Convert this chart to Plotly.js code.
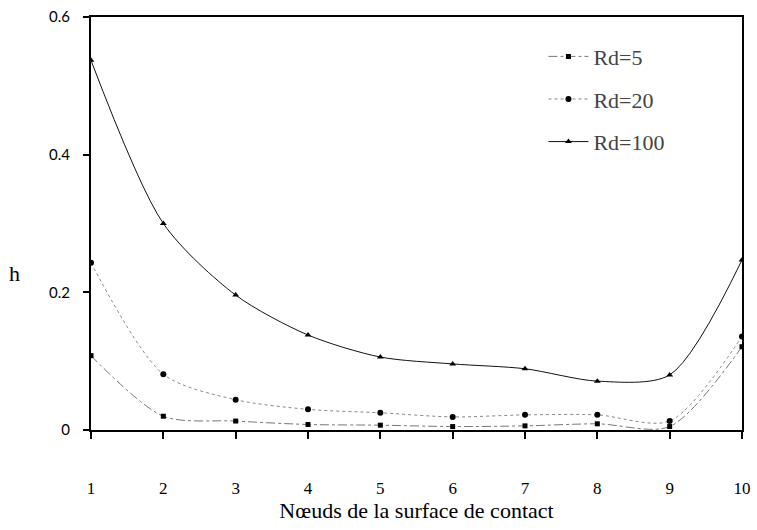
<!DOCTYPE html>
<html>
<head>
<meta charset="utf-8">
<script src="https://cdn.plot.ly/plotly-3.0.1.min.js"></script>
<style>html,body{margin:0;padding:0;background:#fff;}</style>
</head>
<body>
<div id="chart"></div>
<script>
const nodes = [1, 2, 3, 4, 5, 6, 7, 8, 9, 10];
const rd5   = [0.108, 0.020, 0.013, 0.008, 0.007, 0.005, 0.006, 0.009, 0.005, 0.121];
const rd20  = [0.243, 0.081, 0.044, 0.030, 0.025, 0.019, 0.022, 0.022, 0.013, 0.136];
const rd100 = [0.537, 0.300, 0.196, 0.138, 0.106, 0.096, 0.089, 0.071, 0.080, 0.247];
const seriesNames = ["Rd=5", "Rd=20", "Rd=100"];
const xTicks = [1, 2, 3, 4, 5, 6, 7, 8, 9, 10];
const yTicks = [0, 0.2, 0.4, 0.6];
const yTickText = ["0", "0.2", "0.4", "0.6"];
const yTitle = "h";
const xTitle = "Nœuds de la surface de contact";

const fam = "Liberation Serif";
const famSans = "Lato";
const traces = [
  {x: nodes, y: rd5, name: seriesNames[0], legendgroup: "a", mode: "lines+markers",
   line: {color: "#777", width: 1, dash: "dashdot", shape: "spline", smoothing: 0.8},
   marker: {symbol: "square", size: 5, color: "#000"}},
  {x: nodes, y: rd20, name: seriesNames[1], legendgroup: "b", mode: "lines+markers",
   line: {color: "#888", width: 1, dash: "dot", shape: "spline", smoothing: 0.8},
   marker: {symbol: "circle", size: 6, color: "#000"}},
  {x: nodes, y: rd100, name: seriesNames[2], legendgroup: "c", mode: "lines+markers",
   line: {color: "#111", width: 1, shape: "spline", smoothing: 0.8},
   marker: {symbol: "triangle-up", size: 6, color: "#000"}}
];
const layout = {
  width: 757, height: 530,
  margin: {l: 91, r: 15, t: 17, b: 100},
  paper_bgcolor: "#fff", plot_bgcolor: "#fff",
  font: {family: fam, size: 14},
  showlegend: true,
  legend: {x: 0.695, y: 0.955, xanchor: "left", yanchor: "top",
           font: {family: fam, size: 22},
           bgcolor: "rgba(0,0,0,0)", tracegroupgap: 11, itemwidth: 40},
  xaxis: {range: [1, 10], tickvals: xTicks, ticktext: xTicks.map(String),
          showgrid: false, zeroline: false, showline: true, linecolor: "#000", linewidth: 2,
          mirror: true, ticks: "outside", ticklen: 7, tickwidth: 2, tickcolor: "#000",
          ticklabelstandoff: 35, tickfont: {family: fam, size: 17, color: "#000"},
          title: {text: xTitle, font: {family: fam, size: 22, color: "#000"}, standoff: 2}},
  yaxis: {range: [0, 0.6], tickvals: yTicks, ticktext: yTickText,
          showgrid: false, zeroline: false, showline: true, linecolor: "#000", linewidth: 2,
          mirror: true, ticks: "outside", ticklen: 6, tickwidth: 2, tickcolor: "#000",
          ticklabelstandoff: 10, tickfont: {family: famSans, size: 15, color: "#000"}},
  annotations: [{text: yTitle, xref: "paper", yref: "paper", x: -0.118, y: 0.38,
                 xanchor: "center", yanchor: "middle", showarrow: false,
                 font: {family: fam, size: 22, color: "#000"}}]
};
Plotly.newPlot("chart", traces, layout, {displayModeBar: false, staticPlot: true});
</script>
</body>
</html>
